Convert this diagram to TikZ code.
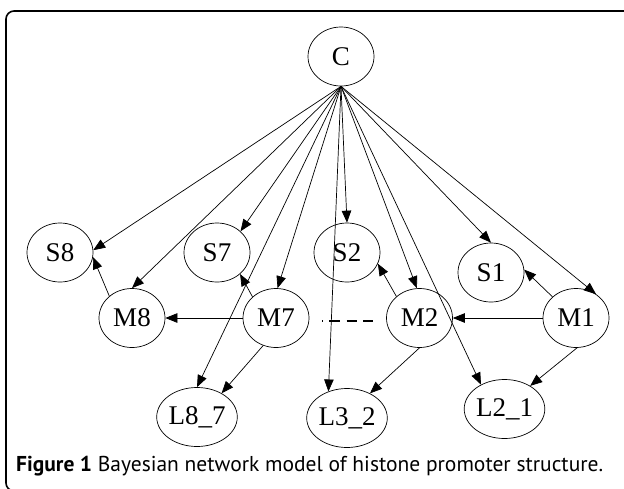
\documentclass[tikz,border=0pt]{standalone}
\usepackage{fontspec}
\setmainfont{Liberation Serif}
\newfontfamily\capfont{PT Sans}
\usetikzlibrary{arrows.meta,shapes.geometric}
\begin{document}
\begin{tikzpicture}[x=1pt,y=-1pt,
  vnode/.style={draw,ellipse,line width=0.7pt,minimum width=66pt,minimum height=59pt,inner sep=0pt,
    font=\fontsize{27}{27}\selectfont},
  arr/.style={line width=0.7pt,-{Triangle[length=12pt,width=9.5pt]}},
  plain/.style={line width=0.7pt}]
\useasboundingbox (0,0) rectangle (624,488);
\draw[line width=1.6pt,rounded corners=8pt] (6,11) rectangle (660,491);
% nodes
\node[vnode] (C) at (341,56.5) {C};
\node[vnode] (S8) at (60,252.5) {S8};
\node[vnode] (S7) at (217,252.5) {S7};
\node[vnode] (S2) at (347,252.5) {S2};
\node[vnode] (S1) at (491,272.5) {S1};
\node[vnode] (M8) at (132,318) {M8};
\node[vnode] (M7) at (276,318) {M7};
\node[vnode] (M2) at (419.5,318) {M2};
\node[vnode] (M1) at (576,318) {M1};
\node[vnode] (L87) at (197,417) {L8\_7};
\node[vnode] (L32) at (347,418) {L3\_2};
\node[vnode] (L21) at (504.5,409) {L2\_1};
% edges from C
\draw[arr] (C.south) -- (S8.4);
\draw[arr] (C.south) -- (M8.north);
\draw[arr] (C.south) -- (S7.42);
\draw[arr] (C.south) -- (L87.north);
\draw[arr] (C.south) -- (M7.87);
\draw[arr] (C.south) -- (L32.125);
\draw[arr] (C.south) -- (S2.north);
\draw[arr] (C.south) -- (M2.95);
\draw[arr] (C.south) -- (L21.134);
\draw[arr] (C.south) -- (S1.north);
\draw[arr] (C.south) -- (M1.50);
% other edges
\draw[arr] (M8.136) -- (S8.-8);
\draw[arr] (M7.west) -- (M8.east);
\draw[arr] (M7.138) -- (S7.-43);
\draw[arr] (M7.245) -- (L87.44);
\draw[arr] (M2.137) -- (S2.-20);
\draw[arr] (M2.south) -- (L32.47);
\draw[arr] (M1.west) -- (M2.east);
\draw[arr] (M1.138) -- (S1.5);
\draw[arr] (M1.-88) -- (L21.42);
% dashed link
\coordinate (dA) at (322,321);
\coordinate (dB) at (373.3,321);
\draw[line width=2.7pt,dash pattern=on 1pt off 6.3pt on 10.7pt off 6.7pt on 10pt off 6.6pt on 10pt] (dA) -- (dB);
% caption
\node[anchor=west,inner sep=0pt,font=\capfont\fontsize{21.5}{21.5}\selectfont] (cap) at (16,466)
  {\textbf{Figure 1} Bayesian network model of histone promoter structure.};
\end{tikzpicture}
\end{document}
